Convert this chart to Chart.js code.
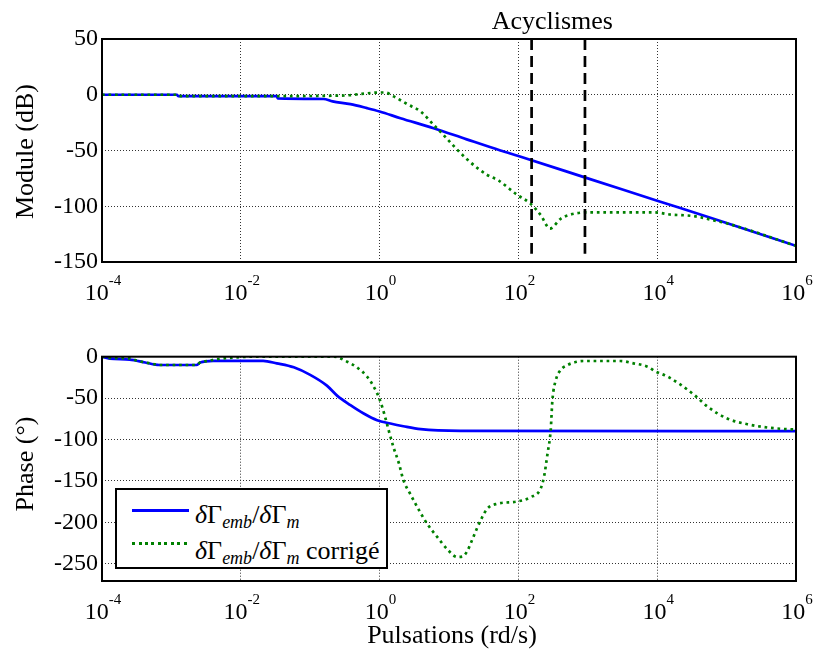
<!DOCTYPE html>
<html>
<head>
<meta charset="utf-8">
<script src="https://cdn.jsdelivr.net/npm/chart.js@4.4.1/dist/chart.umd.min.js"></script>
<style>
  body { margin: 0; background: #fff; }
  #wrap { position: relative; width: 814px; height: 650px; background: #fff; overflow: hidden; }
  #top { position: absolute; left: 0; top: 0; }
  #bot { position: absolute; left: 0; top: 310px; }
  #legend {
    position: absolute; left: 115px; top: 488px; width: 273px; height: 81px;
    box-sizing: border-box; border: 2px solid #000; background: #fff;
    font-family: "Liberation Serif", serif; font-size: 26px; color: #000;
  }
  #legend .sample { position: absolute; left: 15px; width: 57px; height: 3px; }
  #legend .txt { position: absolute; left: 78px; line-height: 26px; white-space: nowrap; }
  #legend .sub { font-size: 18px; font-style: italic; position: relative; top: 5px; }
</style>
</head>
<body>
<div id="wrap">
  <canvas id="top" width="814" height="310"></canvas>
  <canvas id="bot" width="814" height="340"></canvas>
  <div id="legend">
    <div class="sample" style="top:19px;background:#0000ff"></div>
    <div class="txt" style="top:12px"><i>δ</i>Γ<span class="sub">emb</span>/<i>δ</i>Γ<span class="sub">m</span></div>
    <div class="sample" style="top:52px;background:repeating-linear-gradient(90deg,#008000 0 3px,transparent 3px 6.5px)"></div>
    <div class="txt" style="top:48px"><i>δ</i>Γ<span class="sub">emb</span>/<i>δ</i>Γ<span class="sub">m</span> corrigé</div>
  </div>
</div>
<script>
// x axis (log)
const xTicks = [1e-4, 1e-2, 1, 1e2, 1e4, 1e6];
const xTickExp = ["-4", "-2", "0", "2", "4", "6"];

// module (dB)
const magTicks = [50, 0, -50, -100, -150];
const magFreqBlue = [1e-4, 1.2e-3, 1.25e-3, 3.3e-2, 3.4e-2, 0.155, 0.21, 0.38, 0.66, 1, 2, 6, 18, 55, 100, 1e3, 1e4, 1e5, 1e6];
const magBlue = [0, 0, -1.2, -1.2, -3.3, -3.8, -6, -8.4, -12, -15, -21, -30, -40, -50, -55, -75, -95, -115, -135.5];
const magFreqGreen = [1e-4, 1.2e-3, 1.25e-3, 3.3e-2, 0.2, 0.35, 0.55, 1, 1.2, 1.6, 2.5, 3.9, 6, 8.3, 13, 18, 26, 35, 52, 95, 150, 210, 285, 410, 560, 980, 9000, 16000, 30000, 43000, 74000, 1e5, 1e6];
const magGreen = [0, 0, -1.2, -1.2, -0.9, -0.5, 0.8, 2, 2, -1.5, -8.4, -15, -27, -36, -49, -57.6, -66, -71.7, -77, -89.6, -97.7, -108, -120, -111, -107.5, -105.5, -105.5, -107.5, -108.5, -110, -113.5, -115.3, -135.5];

// acyclismes band
const acyclismeFreqs = [155, 910];
const acyclismeSpan = [50, -142.5];

// phase (deg)
const phTicks = [0, -50, -100, -150, -200, -250];
const phFreqBlue = [1e-4, 1.3e-4, 2.5e-4, 4.2e-4, 6.7e-4, 2.3e-3, 2.6e-3, 4e-3, 0.021, 0.033, 0.058, 0.1, 0.174, 0.244, 0.38, 0.59, 0.92, 1.43, 2.2, 3.9, 14.7, 1e6];
const phBlue = [0, -2.4, -3.5, -7, -10, -10, -7, -5, -5, -8, -12.8, -22, -35, -47, -58.5, -68.6, -76.7, -80.7, -84, -87.6, -89.6, -90];
const phFreqGreen = [1e-4, 1.3e-4, 2.5e-4, 3.2e-4, 4.9e-4, 6.9e-4, 2.3e-3, 2.6e-3, 3.6e-3, 4.5e-3, 0.01, 0.014, 0.22, 0.34, 0.47, 0.66, 0.82, 0.97, 1.09, 1.2, 1.35, 1.58, 1.9, 2.2, 2.75, 3.5, 4.85, 6.8, 9.3, 13.2, 15.5, 18, 21.4, 25.7, 30, 35.5, 49.5, 95, 151, 209, 234, 263, 292, 309, 347, 407, 513, 708, 870, 2950, 4570, 7240, 9550, 14100, 21900, 33900, 53700, 102000, 200000, 389000, 759000, 1e6];
const phGreen = [0, -1.6, -2, -4.8, -8, -10, -10, -7, -4.8, -3, -0.5, 0, 0, -6, -12.8, -24, -36, -48.5, -60.6, -72.7, -88.8, -109, -129, -149, -165.5, -181.8, -202, -218, -232, -242, -241.6, -236, -222, -206, -194, -183.7, -177.7, -175, -169.6, -159.5, -145, -117, -88.8, -52.5, -28, -16, -10, -6, -5.2, -5.2, -8, -12, -18, -24, -34, -46, -60.6, -74.7, -81.6, -85.6, -87.6, -88];

const FONT = '"Liberation Serif", "Times New Roman", serif';
Chart.defaults.font.family = FONT;
Chart.defaults.color = "#000";

const pts = (xs, ys) => xs.map((x, i) => ({ x, y: ys[i] }));

const blueSet = (xs, ys) => ({
  data: pts(xs, ys), borderColor: "#0000ff", borderWidth: 2.7,
  pointRadius: 0, cubicInterpolationMode: "monotone", order: 2
});
const greenSet = (xs, ys) => ({
  data: pts(xs, ys), borderColor: "#008000", borderWidth: 2.7, borderDash: [2.7, 3.8],
  pointRadius: 0, cubicInterpolationMode: "monotone", order: 1
});

// frame, x tick labels (10^n), titles
const frame = {
  id: "frame",
  afterDraw(chart, args, o) {
    const { ctx, chartArea: a, scales: { x } } = chart;
    ctx.save();
    ctx.strokeStyle = "#000";
    ctx.lineWidth = 2;
    ctx.strokeRect(a.left, a.top, a.right - a.left, a.bottom - a.top);
    ctx.fillStyle = "#000";
    ctx.textBaseline = "alphabetic";
    ctx.textAlign = "left";
    xTicks.forEach((v, i) => {
      const px = x.getPixelForValue(v);
      ctx.font = "24px " + FONT;
      const w1 = ctx.measureText("10").width;
      ctx.font = "15px " + FONT;
      const w2 = ctx.measureText(xTickExp[i]).width;
      const x0 = px - (w1 + w2) / 2 + 1;
      ctx.font = "24px " + FONT;
      ctx.fillText("10", x0, a.bottom + 38);
      ctx.font = "15px " + FONT;
      ctx.fillText(xTickExp[i], x0 + w1, a.bottom + 23);
    });
    ctx.font = "26px " + FONT;
    ctx.textAlign = "center";
    ctx.save();
    ctx.translate(33, o.yTitleY);
    ctx.rotate(-Math.PI / 2);
    ctx.fillText(o.yTitle, 0, 0);
    ctx.restore();
    if (o.xTitle) {
      ctx.fillText(o.xTitle, (a.left + a.right) / 2 + 3, a.bottom + 62);
    }
    if (o.note) {
      const p1 = x.getPixelForValue(acyclismeFreqs[0]);
      const p2 = x.getPixelForValue(acyclismeFreqs[1]);
      ctx.fillText(o.note, (p1 + p2) / 2 - 6, a.top - 10);
    }
    ctx.restore();
  }
};

function makeChart(id, datasets, yMin, yMax, yTicks, padTop, xAxisH, frameOpts) {
  return new Chart(document.getElementById(id), {
    type: "line",
    data: { datasets },
    options: {
      responsive: false,
      animation: false,
      layout: { padding: { left: 0, right: 18, top: padTop, bottom: 0 } },
      plugins: { legend: { display: false }, tooltip: { enabled: false }, frame: frameOpts },
      scales: {
        x: {
          type: "logarithmic", min: 1e-4, max: 1e6,
          afterBuildTicks: s => { s.ticks = xTicks.map(v => ({ value: v })); },
          afterFit: s => { s.height = xAxisH; },
          ticks: { display: false },
          grid: { color: "#333", lineWidth: 1, drawTicks: false },
          border: { display: false, dash: [1, 2] }
        },
        y: {
          type: "linear", min: yMin, max: yMax,
          afterBuildTicks: s => { s.ticks = yTicks.map(v => ({ value: v })); },
          afterFit: s => { s.width = 102; },
          ticks: { font: { size: 24 }, color: "#000", padding: 4 },
          grid: { color: "#333", lineWidth: 1, drawTicks: false },
          border: { display: false, dash: [1, 2] }
        }
      }
    },
    plugins: [frame]
  });
}

const acyclismeSets = acyclismeFreqs.map(f => ({
  data: acyclismeSpan.map(y => ({ x: f, y })),
  borderColor: "#000", borderWidth: 2.7, borderDash: [11, 6], pointRadius: 0, order: 0
}));

makeChart("top",
  [blueSet(magFreqBlue, magBlue), greenSet(magFreqGreen, magGreen), ...acyclismeSets],
  -150, 50, magTicks, 39, 48,
  { yTitle: "Module (dB)", yTitleY: 151.5, note: "Acyclismes" });

makeChart("bot",
  [blueSet(phFreqBlue, phBlue), greenSet(phFreqGreen, phGreen)],
  -271, 0, phTicks, 46.7, 69,
  { yTitle: "Phase (°)", yTitleY: 154, xTitle: "Pulsations (rd/s)" });
</script>
</body>
</html>
